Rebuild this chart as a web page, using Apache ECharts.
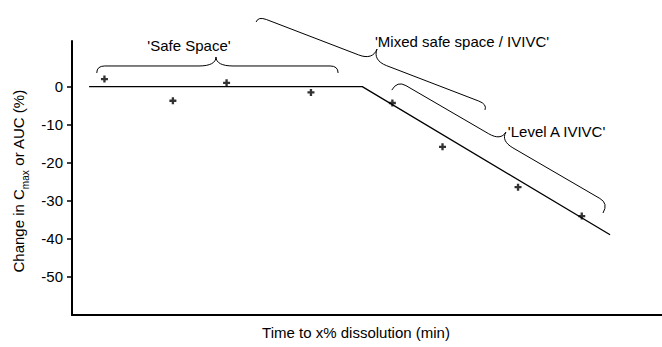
<!DOCTYPE html>
<html><head><meta charset="utf-8">
<script src="https://cdn.jsdelivr.net/npm/echarts@6/dist/echarts.min.js"></script>
<style>html,body{margin:0;padding:0;background:#fff}#c{width:662px;height:347px}</style>
</head><body><div id="c"></div>
<script>
// ---- data ----
const yTickValues = [-50, -40, -30, -20, -10, 0];
const pointX = [5.5, 17.1, 26.2, 40.5, 54.3, 62.8, 75.6, 86.4];
const pointY = [2.0, -3.7, 1.0, -1.5, -4.3, -15.8, -26.4, -34.0];
const lineX = [2.9, 49.2, 91.2];
const lineY = [0, 0, -38.9];
const braceLabels = ["'Safe Space'", "'Mixed safe space / IVIVC'", "'Level A IVIVC'"];
const braceStart = [[4.2, 3.6], [31.2, 17.0], [54.2, -0.9]];
const braceEnd = [[45.1, 3.6], [70.0, -6.1], [90.0, -33.2]];
const xTitle = 'Time to x% dissolution (min)';
const yTitle = '{a|Change in C}{s|max}{a| or AUC (%)}';

// ---- annotation styling (pixels) ----
const braceShape = [
  {h: 7, t: 9, f: 0.494, r: 8, r2: 17, dx: -27, dy: -11.5, align: 'center'},
  {h: 6, t: 12, f: 0.5, r: 9, r2: 15, dx: -2, dy: -8, align: 'left'},
  {h: 11, t: 10, f: 0.49, r: 10, r2: 14, dx: 2, dy: -1, align: 'left'}
];
const FONT = '"Liberation Sans", Arial, sans-serif';

function renderBrace(params, api) {
  const i = params.dataIndex;
  const A = api.coord(braceStart[i]);
  const B = api.coord(braceEnd[i]);
  const s = braceShape[i];
  const dx = B[0] - A[0], dy = B[1] - A[1];
  const L = Math.hypot(dx, dy);
  const u = [dx / L, dy / L];
  const n = [u[1], -u[0]];
  const P = (a, b) => [A[0] + u[0] * a + n[0] * b, A[1] + u[1] * a + n[1] * b];
  const f = p => p[0].toFixed(2) + ' ' + p[1].toFixed(2);
  const m = s.f * L, h = s.h, t = s.t, r = s.r, r2 = s.r2;
  const tip = P(m, h + t);
  const d = 'M' + f(A) +
    ' Q' + f(P(0, h)) + ' ' + f(P(r, h)) +
    ' L' + f(P(m - r2, h)) +
    ' C' + f(P(m - r2 * 0.35, h)) + ' ' + f(P(m, h + t * 0.35)) + ' ' + f(tip) +
    ' C' + f(P(m, h + t * 0.35)) + ' ' + f(P(m + r2 * 0.35, h)) + ' ' + f(P(m + r2, h)) +
    ' L' + f(P(L - r, h)) +
    ' Q' + f(P(L, h)) + ' ' + f(B);
  return {
    type: 'group',
    children: [
      {type: 'path', shape: {pathData: d}, style: {fill: 'none', stroke: '#000', lineWidth: 1}},
      {type: 'text', x: tip[0] + s.dx, y: tip[1] + s.dy,
       style: {text: braceLabels[i], fill: '#000', fontSize: 15, fontFamily: FONT,
               align: s.align, verticalAlign: 'middle'}}
    ]
  };
}

const chart = echarts.init(document.getElementById('c'), null, {renderer: 'svg'});
chart.setOption({
  animation: false,
  backgroundColor: '#fff',
  grid: {left: 72, right: 0, top: 41, bottom: 32, containLabel: false},
  xAxis: {
    type: 'value', min: 0, max: 100,
    axisLine: {show: true, onZero: false, lineStyle: {color: '#000', width: 2}},
    axisTick: {show: false}, axisLabel: {show: false}, splitLine: {show: false},
    name: xTitle, nameLocation: 'middle', nameGap: 10,
    nameTextStyle: {color: '#000', fontSize: 15, fontFamily: FONT, padding: [0, 22, 0, 0]}
  },
  yAxis: {
    type: 'value', min: -60, max: 12,
    axisLine: {show: true, onZero: false, lineStyle: {color: '#000', width: 2}},
    axisTick: {show: true, length: 5, customValues: yTickValues, lineStyle: {color: '#000', width: 1.5}},
    axisLabel: {show: true, customValues: yTickValues, color: '#000', fontSize: 15, fontFamily: FONT, margin: 9},
    splitLine: {show: false},
    name: yTitle, nameLocation: 'middle', nameGap: 34,
    nameTextStyle: {
      color: '#000', fontSize: 15, fontFamily: FONT,
      padding: [0, 6, 0, 0],
      rich: {
        a: {fontSize: 15, fontFamily: FONT, color: '#000', lineHeight: 15, verticalAlign: 'top'},
        s: {fontSize: 10, fontFamily: FONT, color: '#000', lineHeight: 19, verticalAlign: 'bottom'}
      }
    }
  },
  series: [
    {
      type: 'line', data: lineX.map((x, i) => [x, lineY[i]]),
      symbol: 'none', lineStyle: {color: '#000', width: 1.3}, z: 2
    },
    {
      type: 'scatter', data: pointX.map((x, i) => [x, pointY[i]]),
      symbol: 'path://M3,0H6V3H9V6H6V9H3V6H0V3H3Z', symbolSize: 7,
      itemStyle: {color: '#000'}, z: 3
    },
    {
      type: 'custom', clip: false, renderItem: renderBrace,
      data: braceLabels.map((_, i) => [i]), z: 4, silent: true
    }
  ]
});
</script></body></html>
